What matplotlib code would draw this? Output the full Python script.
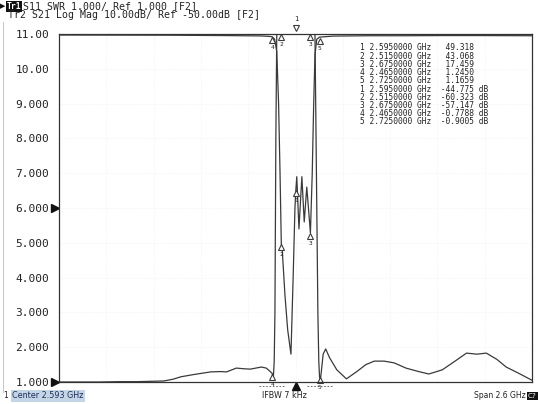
import numpy as np
import matplotlib.pyplot as plt
from matplotlib.transforms import blended_transform_factory, offset_copy

# sweep settings (GHz)
center_ghz = 2.593
span_ghz = 2.6

# Tr1: S11 as SWR
s11_freq = [1.293, 1.40, 1.52, 1.62, 1.72, 1.80, 1.87, 1.92, 1.963, 2.04, 2.127,
            2.18, 2.214, 2.268, 2.31, 2.345, 2.405, 2.432, 2.45, 2.465, 2.471,
            2.476, 2.480, 2.485, 2.490, 2.515, 2.595, 2.675, 2.700, 2.710, 2.716,
            2.721, 2.725, 2.729, 2.735, 2.745, 2.759, 2.78, 2.82, 2.873, 2.93,
            2.98, 3.026, 3.08, 3.135, 3.20, 3.27, 3.326, 3.40, 3.47, 3.533,
            3.59, 3.642, 3.70, 3.751, 3.82, 3.893]
s11_swr = [1.00, 1.00, 1.00, 1.01, 1.01, 1.02, 1.03, 1.08, 1.15, 1.22, 1.29,
           1.30, 1.29, 1.40, 1.38, 1.37, 1.43, 1.40, 1.32, 1.245, 1.10,
           1.6, 3.0, 8.0, 20.0, 43.068, 49.318, 17.459, 12.0, 6.0, 3.0,
           1.6, 1.1659, 1.02, 1.30, 1.80, 1.95, 1.70, 1.35, 1.09, 1.30,
           1.50, 1.60, 1.60, 1.55, 1.40, 1.30, 1.23, 1.35, 1.60, 1.83,
           1.80, 1.83, 1.65, 1.43, 1.25, 1.05]

# Tr2: S21 in dB
s21_freq = [1.293, 1.60, 1.90, 2.20, 2.40, 2.44, 2.465, 2.478, 2.490, 2.500,
            2.508, 2.515, 2.520, 2.535, 2.550, 2.568, 2.580, 2.590, 2.595,
            2.600, 2.612, 2.628, 2.641, 2.655, 2.675, 2.685, 2.693, 2.700,
            2.710, 2.725, 2.80, 3.00, 3.20, 3.40, 3.60, 3.893]
s21_db = [-0.30, -0.32, -0.35, -0.45, -0.55, -0.65, -0.7788, -1.5, -5.0, -20.0,
          -40.0, -60.323, -62.0, -75.0, -85.0, -92.0, -70.0, -50.0, -44.775,
          -41.0, -56.0, -41.0, -54.0, -44.0, -57.147, -40.0, -20.0, -6.0,
          -1.5, -0.9005, -0.6, -0.5, -0.5, -0.45, -0.45, -0.5]

# marker table
marker_ids = [1, 2, 3, 4, 5]
marker_freq = [2.595, 2.515, 2.675, 2.465, 2.725]
marker_swr = ['49.318', '43.068', '17.459', '1.2450', '1.1659']
marker_s21 = ['-44.775', '-60.323', '-57.147', '-0.7788', '-0.9005']
swr_ticks = list(range(1, 12))

W, H = 543, 404
trace_col = '#3a3a3a'
text_col = '#222222'
mono = 'DejaVu Sans Mono'

fig = plt.figure(figsize=(W / 100, H / 100), dpi=100)
fig.patch.set_facecolor('white')


def px(x, y):
    return x / W, 1 - y / H


ax = fig.add_axes([59 / W, 1 - 382 / H, 473 / W, 348 / H])
ax.set_xlim(center_ghz - span_ghz / 2, center_ghz + span_ghz / 2)
ax.set_ylim(1, 11)
ax.set_yticks(swr_ticks)
ax.set_yticklabels([f'{v:.2f}' if v >= 10 else f'{v:.3f}' for v in swr_ticks],
                   family=mono, fontsize=8.0, color=text_col)
ax.tick_params(axis='y', length=0, pad=7)
ax.set_xticks(np.linspace(center_ghz - span_ghz / 2, center_ghz + span_ghz / 2, 11))
ax.tick_params(axis='x', length=0, labelbottom=False)
ax.grid(True, color='#ededed', lw=0.5, ls=':')
for s in ax.spines.values():
    s.set_color('#333333')
    s.set_linewidth(0.9)

ax2 = ax.twinx()
ax2.set_ylim(-100, 0)
ax2.set_yticks([])
for s in ax2.spines.values():
    s.set_visible(False)

# traces (SWR clipped to the screen like the analyser does)
ax.plot(s11_freq, np.clip(s11_swr, 1, 11), color=trace_col, lw=0.9)
ax2.plot(s21_freq, s21_db, color=trace_col, lw=0.9)

# markers: open triangles with the number under them
up = offset_copy(ax.transData, fig, y=-3.5, units='dots')
up2 = offset_copy(ax2.transData, fig, y=-3.5, units='dots')
num = offset_copy(ax.transData, fig, y=-11, units='dots')
num2 = offset_copy(ax2.transData, fig, y=-11, units='dots')
for i, f, v in zip(marker_ids, marker_freq, marker_swr):
    yv = min(float(v), 11)
    if i == 1:
        tr = offset_copy(ax.transData, fig, y=6, units='dots')
        ax.plot(f, yv, marker='v', ms=5, mfc='white', mec=trace_col, mew=0.8,
                transform=tr, clip_on=False)
        ax.text(f, yv, str(i), transform=offset_copy(ax.transData, fig, y=15, units='dots'),
                ha='center', va='center', fontsize=5, family=mono, color=text_col)
    else:
        ax.plot(f, yv, marker='^', ms=5, mfc='white', mec=trace_col, mew=0.8,
                transform=up, clip_on=False)
        ax.text(f, yv, str(i), transform=num, ha='center', va='center',
                fontsize=4.5, family=mono, color=text_col)
for i, f, v in zip(marker_ids, marker_freq, marker_s21):
    ax2.plot(f, float(v), marker='^', ms=5, mfc='white', mec=trace_col, mew=0.8,
             transform=up2, clip_on=False)
    ax2.text(f, float(v), str(i), transform=num2, ha='center', va='center',
             fontsize=4.5, family=mono, color=text_col)

# reference position arrows and active marker stimulus arrow
left_tr = blended_transform_factory(ax.transAxes, ax.transData)
ax.plot([-0.008, -0.008], [6, 1], ls='none', marker='>', ms=6, color='#111111',
        transform=left_tr, clip_on=False)
bot_tr = blended_transform_factory(ax.transData, ax.transAxes)
ax.plot(marker_freq[0], -0.012, marker='^', ms=6, color='#111111',
        transform=bot_tr, clip_on=False)
for f in (marker_freq[3], marker_freq[4]):
    ax.plot([f - 0.07, f + 0.07], [-0.012, -0.012], ls=(0, (2, 2)), lw=0.6,
            color='#555555', transform=bot_tr, clip_on=False)

# marker readout table
rows = [f'{i} {f:.7f} GHz  {v:>7}' for i, f, v in zip(marker_ids, marker_freq, marker_swr)]
rows += [f'{i} {f:.7f} GHz {v:>8} dB' for i, f, v in zip(marker_ids, marker_freq, marker_s21)]
for k, r in enumerate(rows):
    fig.text(*px(360, 48 + k * 8.2), r, family=mono, fontsize=5.7,
             color=text_col, va='center', ha='left')

# header
fig.text(*px(0, 6.5), '\u25b6', fontsize=5, color='#111111', va='center')
fig.text(*px(6.5, 6.5), 'Tr1', family=mono, fontsize=5.8, color='white',
         va='center', fontweight='bold',
         bbox=dict(boxstyle='square,pad=0.08', fc='#111111', ec='none'))
fig.text(*px(23, 6.5), 'S11 SWR 1.000/ Ref 1.000 [F2]', family=mono,
         fontsize=7.1, color=text_col, va='center')
fig.text(*px(8, 15.5), 'Tr2 S21 Log Mag 10.00dB/ Ref -50.00dB [F2]',
         family=mono, fontsize=7.1, color=text_col, va='center')

# left edge of the screen
fig.add_artist(plt.Line2D([2.5 / W, 2.5 / W], [1 - 392 / H, 1 - 22 / H],
                          color='#bbbbbb', lw=0.6))

# status bar
fig.text(*px(3, 396), '1', fontsize=5.5, color=text_col, va='center')
fig.text(*px(12, 396), 'Center 2.593 GHz', fontsize=5.8, color='#1c2f5a',
         va='center', bbox=dict(boxstyle='square,pad=0.15', fc='#c4d6e6', ec='none'))
fig.text(*px(262, 396), 'IFBW 7 kHz', fontsize=5.8, color=text_col, va='center')
fig.text(*px(474, 396), 'Span 2.6 GHz', fontsize=5.5, color=text_col, va='center')
fig.text(*px(528, 396), 'C?', fontsize=5.2, color='white', va='center',
         bbox=dict(boxstyle='square,pad=0.2', fc='#111111', ec='none'))

fig.savefig('out.png', dpi=100, facecolor='white')
